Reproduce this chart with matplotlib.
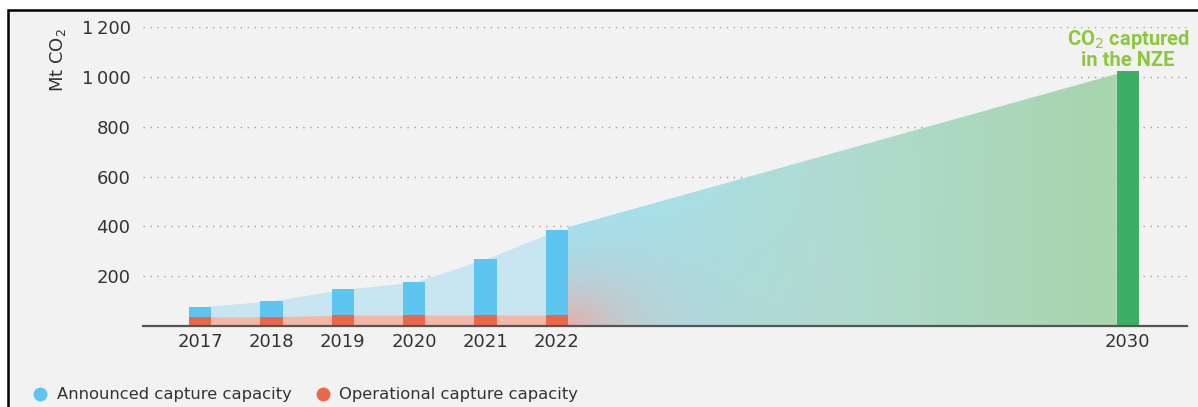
import numpy as np
import matplotlib
matplotlib.use("Agg")
import matplotlib.pyplot as plt
from matplotlib.patches import Polygon, Rectangle
from matplotlib.lines import Line2D

# data
years = [2017, 2018, 2019, 2020, 2021, 2022]
announced = [77, 101, 147, 176, 269, 384]
operational = [37, 37, 44, 44, 44, 44]
nze_year = 2030
nze_value = 1024
ytick_vals = [200, 400, 600, 800, 1000, 1200]
ytick_labels = ["200", "400", "600", "800", "1\u2009000", "1\u2009200"]

c_blue = "#5ec5f0"
c_red = "#ec6649"
c_lblue = "#c8e6f2"
c_pink = "#f3b7aa"
c_green = "#3dae63"
c_text = "#333333"

W, H = 1198, 407
fig = plt.figure(figsize=(W / 100, H / 100), dpi=100)
fig.patch.set_facecolor("white")
# panel background with black frame on the left and top
fig.patches.append(Rectangle((8 / W, -0.1), 1.2, 1 - 10 / H + 0.1, transform=fig.transFigure,
                             facecolor="#f2f2f2", edgecolor="black", lw=1.8, zorder=-10))

ax = fig.add_axes([143 / W, 1 - 326 / H, (1187 - 143) / W, (326 - 27) / H])
ax.set_facecolor("none")

bw = 0.31
ax.fill_between(years, announced, color=c_lblue, lw=0, zorder=1)
ax.fill_between(years, operational, color=c_pink, lw=0, zorder=1.5)

# gradient area 2022 -> 2030
x0, x1 = years[-1] + bw / 2, nze_year - bw / 2
top = lambda x: np.interp(x, [years[-1], nze_year], [announced[-1], nze_value])
nx, ny = 500, 260
uu = np.linspace(0, 1, nx)
u = uu[None, :]
v = np.linspace(0, 1, ny)[:, None]
stops = [0, 0.45, 1]
cols = np.array([[158, 229, 247], [176, 220, 212], [167, 213, 172]]) / 255
row = np.stack([np.interp(uu, stops, cols[:, k]) for k in range(3)], axis=-1)
img = np.broadcast_to(row[None, :, :], (ny, nx, 3)).copy()
pink = np.array([242, 165, 155]) / 255
r = np.sqrt((u / 0.28) ** 2 + (v / 0.4) ** 2)
a = (0.88 * np.exp(-2.2 * r))[..., None]
img = img * (1 - a) + pink * a
im = ax.imshow(img, extent=[x0, x1, 0, nze_value], origin="lower", aspect="auto",
               interpolation="bilinear", zorder=1)
poly = Polygon([(x0, 0), (x0, top(x0)), (x1, top(x1)), (x1, 0)], closed=True,
               transform=ax.transData, facecolor="none", edgecolor="none")
ax.add_patch(poly)
im.set_clip_path(poly)

ax.bar(years, announced, width=bw, color=c_blue, zorder=3)
ax.bar(years, operational, width=bw, color=c_red, zorder=4)
ax.bar([nze_year], [nze_value], width=bw, color=c_green, zorder=3)

ax.set_xlim(2016.2, 2030.83)
ax.set_ylim(0, 1200)
ax.set_yticks(ytick_vals)
ax.set_yticklabels(ytick_labels)
ax.set_xticks(years + [nze_year])
ax.set_xticklabels([str(y) for y in years + [nze_year]])
ax.tick_params(axis="both", length=0, labelsize=13, colors=c_text)
ax.tick_params(axis="y", pad=9)
ax.tick_params(axis="x", pad=5)
ax.grid(axis="y", color="#a0a0a0", lw=1, linestyle=(0, (1, 4)), zorder=0)
ax.set_axisbelow(True)
for s in ["top", "right", "left"]:
    ax.spines[s].set_visible(False)
ax.spines["bottom"].set_color("#555555")
ax.spines["bottom"].set_linewidth(1.6)
ax.spines["bottom"].set_zorder(5)

fig.text(58 / W, 1 - 60 / H, "Mt CO$_2$", rotation=90, ha="center", va="center",
         fontsize=13, color=c_text)

fig.text(1128 / W, 1 - 49 / H, "CO$_2$ captured\nin the NZE", ha="center", va="center",
         multialignment="center", linespacing=0.95,
         fontsize=14.5, fontweight="bold", color="#8dc63f", family="Roboto")

handles = [Line2D([], [], marker="o", ls="none", ms=10, color=c_blue, mec="none"),
           Line2D([], [], marker="o", ls="none", ms=10, color=c_red, mec="none")]
fig.legend(handles, ["Announced capture capacity", "Operational capture capacity"],
           loc="center left", bbox_to_anchor=(24 / W, 1 - 395 / H), ncol=2, frameon=False,
           fontsize=11.8, handletextpad=0.0, columnspacing=0.9, labelcolor=c_text,
           borderpad=0, borderaxespad=0)

fig.savefig("out.png", dpi=100)
